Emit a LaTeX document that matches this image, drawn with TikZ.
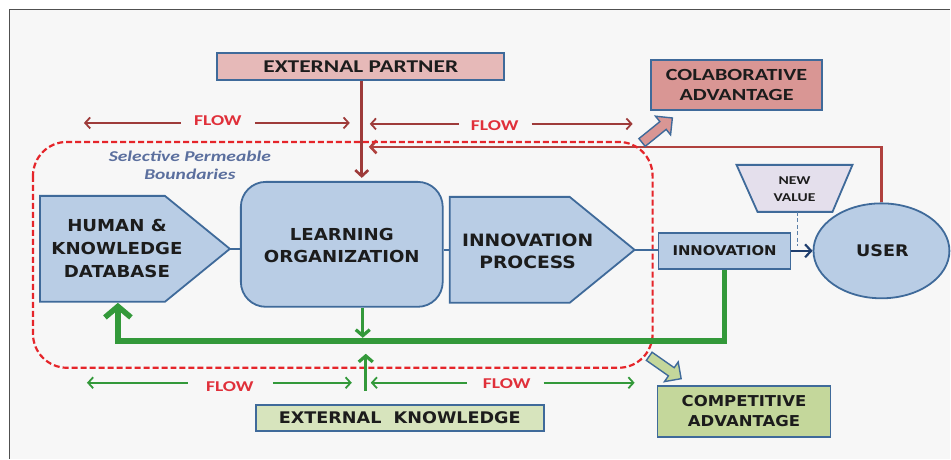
\documentclass[tikz,border=0pt]{standalone}
\usepackage{fontspec}
\usetikzlibrary{arrows.meta,shapes.geometric}
\newfontfamily\wfont[FakeStretch=1.1]{DejaVu Sans}
\newfontfamily\cfont[FakeStretch=1.3]{Carlito}
\definecolor{bgc}{HTML}{F7F7F7}
\definecolor{framec}{HTML}{505050}
\definecolor{bordc}{HTML}{3F6A9A}
\definecolor{bluef}{HTML}{B9CDE5}
\definecolor{epf}{HTML}{E6B9B8}
\definecolor{colabf}{HTML}{D99694}
\definecolor{ekf}{HTML}{D7E4BD}
\definecolor{compf}{HTML}{C4D79B}
\definecolor{nvf}{HTML}{E4DFEC}
\definecolor{darkred}{HTML}{9E3B3A}
\definecolor{fbred}{HTML}{B0413E}
\definecolor{dashred}{HTML}{E5252A}
\definecolor{greenc}{HTML}{33993A}
\definecolor{flowtxt}{HTML}{E0303A}
\definecolor{selc}{HTML}{5B6F9E}
\definecolor{txtc}{HTML}{1C1C1C}
\definecolor{arrblue}{HTML}{1F3E6E}
\tikzset{
  shapebox/.style={draw=bordc, fill=bluef, line width=1.8pt},
  wlbl/.style={text=txtc, align=center, inner sep=0pt},
  clbl/.style={text=txtc, align=center, inner sep=0pt},
  conn/.style={draw=bordc, line width=1.6pt},
  flowr/.style={draw=darkred, line width=1.8pt, -{Straight Barb[length=5pt,width=11pt]}},
  flowg/.style={draw=greenc, line width=1.8pt, -{Straight Barb[length=5pt,width=11pt]}},
  flowtext/.style={text=flowtxt, font=\cfont\bfseries\fontsize{15}{18}\selectfont, inner sep=0pt},
  blockarr/.style={draw=bordc, line width=1.4pt},
}
\begin{document}
\begin{tikzpicture}[x=1pt,y=-1pt]
\fill[white] (0,0) rectangle (951,459);
\fill[bgc] (9,9) rectangle (951,459);
\draw[framec, line width=1.2pt] (9.5,459) -- (9.5,9.5) -- (951,9.5);
\useasboundingbox (0,0) rectangle (951,459);

% boxes with text
\node[draw=bordc, fill=epf, line width=1.8pt, minimum width=287, minimum height=27,
      text=txtc, font=\cfont\bfseries\fontsize{18}{20}\selectfont, inner sep=0pt] (ep) at (361,66.5) {EXTERNAL PARTNER};
\node[draw=bordc, fill=colabf, line width=1.8pt, minimum width=171, minimum height=50, align=center,
      text=txtc, font=\cfont\bfseries\fontsize{17}{20}\selectfont, inner sep=0pt] (colab) at (737,85) {COLABORATIVE\\ADVANTAGE};
\node[draw=bordc, fill=ekf, line width=1.8pt, minimum width=288, minimum height=26,
      text=txtc, font=\wfont\bfseries\fontsize{16}{19}\selectfont, inner sep=0pt] (ek) at (400,418) {EXTERNAL\ \ KNOWLEDGE};
\node[draw=bordc, fill=compf, line width=1.8pt, minimum width=173, minimum height=51, align=center,
      text=txtc, font=\wfont\bfseries\fontsize{15}{20}\selectfont, inner sep=0pt] (comp) at (744.5,411.5) {COMPETITIVE\\ADVANTAGE};

% red feedback line and arrows
\coordinate (fbend) at (369,147);
\node[shapebox, ellipse, minimum width=136, minimum height=95, inner sep=0pt] (user) at (882,251) {};
\draw[draw=fbred, line width=2.6pt, -{Straight Barb[length=6pt,width=13pt]}] (user.north) |- (fbend);

% dashed boundary
\draw[dashred, line width=2.2pt, dash pattern=on 6pt off 3pt, rounded corners=34pt] (33,142) rectangle (653,368);

\node[text=selc, align=center, font=\cfont\bfseries\itshape\fontsize{15}{18}\selectfont, inner sep=0pt] (sel) at (190,165) {Selective Permeable\\Boundaries};

% Learning organization
\node[shapebox, rounded corners=25pt, minimum width=202, minimum height=125, inner sep=0pt] (lo) at (342,244.5) {};
\node[wlbl, font=\wfont\bfseries\fontsize{16.5}{22}\selectfont] (lot) at (342,246) {LEARNING\\ORGANIZATION};

% HKD
\draw[shapebox] (40,196) -- (165,196) -- (230,249) -- (165,302) -- (40,302) -- cycle;
\coordinate (hkdtip) at (230,249);
\coordinate (hkdb) at (118,303);
\node[wlbl, font=\wfont\bfseries\fontsize{16.5}{23}\selectfont] (hkd) at (117,249) {HUMAN \&\\KNOWLEDGE\\DATABASE};

% IP
\draw[shapebox] (450,197) -- (570,197) -- (635,250) -- (570,303) -- (450,303) -- cycle;
\coordinate (ipw) at (450,250);
\coordinate (iptip) at (635,250);
\node[wlbl, font=\wfont\bfseries\fontsize{17}{22}\selectfont] (ip) at (528,251) {INNOVATION\\PROCESS};

% Innovation
\node[shapebox, minimum width=132, minimum height=36, inner sep=0pt, text=txtc,
      font=\wfont\bfseries\fontsize{13.5}{16}\selectfont] (inn) at (725,251) {INNOVATION};
\node[wlbl, font=\wfont\bfseries\fontsize{16}{19}\selectfont] (usert) at (883,251) {USER};

% New value
\draw[draw=bordc, fill=nvf, line width=1.8pt] (737,165) -- (853,165) -- (833,212) -- (758,212) -- cycle;
\coordinate (nvb) at (798,212);
\coordinate (nvd) at (798,246);
\node[clbl, font=\cfont\bfseries\fontsize{12}{17}\selectfont] (nv) at (795,189) {NEW\\VALUE};

% connectors
\draw[conn] (hkdtip) -- (hkdtip -| lo.west);
\draw[conn] (ipw -| lo.east) -- (ipw);
\draw[conn] (iptip) -- (iptip -| inn.west);
\draw[draw=arrblue, line width=2.2pt, -{Straight Barb[length=6pt,width=13pt]}] (inn.east) -- (user.west);
\draw[draw=bordc!85!white, line width=1.6pt, dash pattern=on 4pt off 2.5pt] (nvb) -- (nvd);

% external partner arrow
\draw[draw=darkred, line width=2.6pt, shorten >=4pt, -{Straight Barb[length=6pt,width=13pt]}] (ep.south -| 362,0) -- (362,182);

% green lines
\coordinate (gcorner) at (118,341);
\coordinate (gj) at (363,338);
\coordinate (gup) at (366,354);
\coordinate (gbot) at (366,391);
\draw[draw=greenc, line width=5.5pt, line join=miter, -{Straight Barb[length=11pt,width=26pt]}] (inn.south) |- (gcorner) -- (hkdb);
\draw[draw=greenc, line width=3.2pt, -{Straight Barb[length=6pt,width=14pt]}] ([xshift=21pt]lo.south) -- (gj);
\draw[draw=greenc, line width=3.2pt, -{Straight Barb[length=6pt,width=14pt]}] (gbot) -- (gup);

% top flow arrows
\node[flowtext] (f1) at (218,121) {FLOW};
\node[flowtext] (f2) at (495,126) {FLOW};
\coordinate (t1a) at (84,123); \coordinate (t1b) at (181,123);
\coordinate (t1c) at (255,123); \coordinate (t1d) at (350,123);
\coordinate (t2a) at (370,124); \coordinate (t2b) at (459,124);
\coordinate (t2c) at (532,124); \coordinate (t2d) at (633,124);
\draw[flowr] (t1b) -- (t1a);
\draw[flowr] (t1c) -- (t1d);
\draw[flowr] (t2b) -- (t2a);
\draw[flowr] (t2c) -- (t2d);

% bottom flow arrows
\node[flowtext] (f3) at (230,387) {FLOW};
\node[flowtext] (f4) at (507,384) {FLOW};
\coordinate (b1a) at (87,383); \coordinate (b1b) at (188,383);
\coordinate (b1c) at (273,383); \coordinate (b1d) at (352,383);
\coordinate (b2a) at (371,383); \coordinate (b2b) at (467,383);
\coordinate (b2c) at (544,383); \coordinate (b2d) at (635,383);
\draw[flowg] (b1b) -- (b1a);
\draw[flowg] (b1c) -- (b1d);
\draw[flowg] (b2b) -- (b2a);
\draw[flowg] (b2c) -- (b2d);

% block arrows
\begin{scope}[shift={(658,130)}, rotate=39]
\draw[blockarr, fill=colabf] (-20,-5) -- (7,-5) -- (7,-12) -- (19,0) -- (7,12) -- (7,5) -- (-20,5) -- cycle;
\end{scope}
\begin{scope}[shift={(666,368)}, rotate=-35]
\draw[blockarr, fill=compf] (-20,-5) -- (7,-5) -- (7,-12) -- (19,0) -- (7,12) -- (7,5) -- (-20,5) -- cycle;
\end{scope}
\end{tikzpicture}
\end{document}
